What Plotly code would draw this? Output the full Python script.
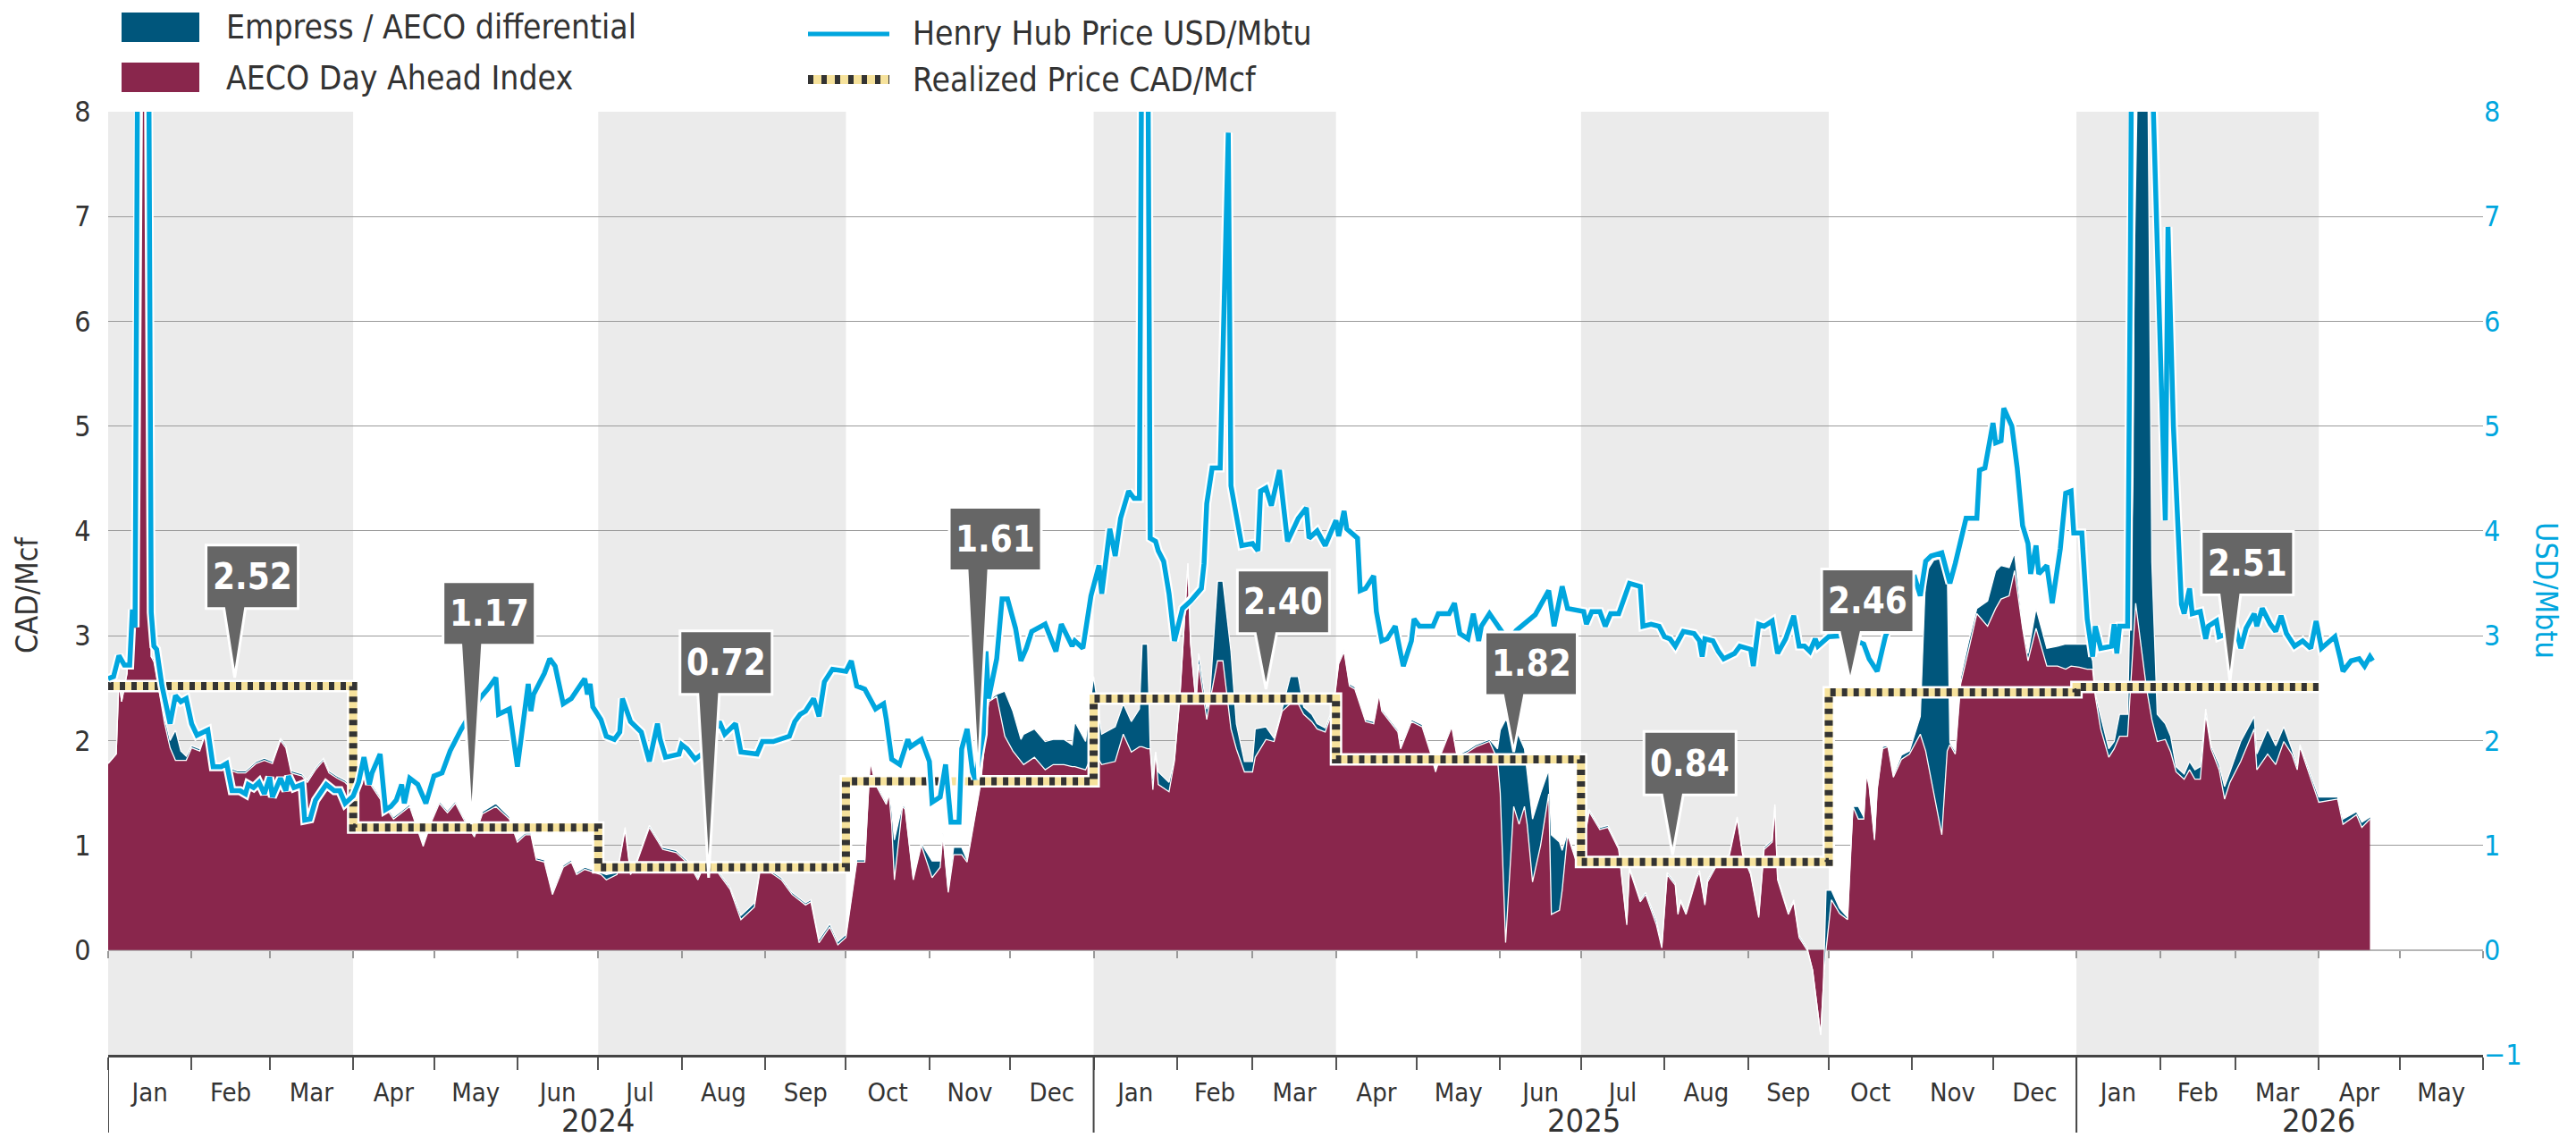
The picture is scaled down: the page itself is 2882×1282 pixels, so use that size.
import plotly.graph_objects as go
import pandas as pd

# ---------------- DATA ----------------
aeco_dates = [
    "2024-01-01","2024-01-04","2024-01-05","2024-01-06","2024-01-08","2024-01-10","2024-01-11","2024-01-12","2024-01-13","2024-01-15","2024-01-16","2024-01-17","2024-01-18","2024-01-20","2024-01-22","2024-01-24","2024-01-26","2024-01-28","2024-01-30",
    "2024-02-01","2024-02-04","2024-02-06","2024-02-09","2024-02-12","2024-02-15","2024-02-18","2024-02-21","2024-02-25","2024-02-28",
    "2024-03-02","2024-03-05","2024-03-07","2024-03-09","2024-03-13","2024-03-15","2024-03-18","2024-03-21","2024-03-23","2024-03-26","2024-03-29",
    "2024-04-01","2024-04-03","2024-04-06","2024-04-09","2024-04-13","2024-04-16","2024-04-19","2024-04-22","2024-04-27","2024-04-30",
    "2024-05-03","2024-05-06","2024-05-09","2024-05-12","2024-05-16","2024-05-19","2024-05-24","2024-05-29",
    "2024-06-01","2024-06-04","2024-06-06","2024-06-08","2024-06-11","2024-06-14","2024-06-18","2024-06-21","2024-06-23","2024-06-26",
    "2024-07-02","2024-07-04","2024-07-08","2024-07-11","2024-07-13","2024-07-15","2024-07-20","2024-07-23","2024-07-25","2024-07-30",
    "2024-08-04","2024-08-07","2024-08-09","2024-08-13","2024-08-15","2024-08-19","2024-08-23","2024-08-28","2024-08-30",
    "2024-09-03","2024-09-07","2024-09-11","2024-09-16","2024-09-18","2024-09-21","2024-09-25","2024-09-28",
    "2024-10-01","2024-10-05","2024-10-08","2024-10-10","2024-10-12","2024-10-16","2024-10-17","2024-10-18","2024-10-19","2024-10-22","2024-10-23","2024-10-26","2024-10-29",
    "2024-11-02","2024-11-05","2024-11-06","2024-11-08","2024-11-10","2024-11-13","2024-11-15","2024-11-20","2024-11-23","2024-11-26","2024-11-29",
    "2024-12-02","2024-12-05","2024-12-06","2024-12-10","2024-12-14","2024-12-17","2024-12-21","2024-12-24","2024-12-25","2024-12-29",
    "2025-01-01","2025-01-04","2025-01-09","2025-01-12","2025-01-15","2025-01-18","2025-01-19","2025-01-21","2025-01-22","2025-01-23","2025-01-24","2025-01-25","2025-01-29","2025-01-31",
    "2025-02-02","2025-02-05","2025-02-06","2025-02-08","2025-02-09","2025-02-12","2025-02-13","2025-02-16","2025-02-18","2025-02-21","2025-02-23","2025-02-26",
    "2025-03-01","2025-03-02","2025-03-06","2025-03-09","2025-03-12","2025-03-15","2025-03-18","2025-03-20","2025-03-23","2025-03-25","2025-03-28","2025-03-31",
    "2025-04-02","2025-04-04","2025-04-06","2025-04-08","2025-04-12","2025-04-15","2025-04-17","2025-04-18","2025-04-24","2025-04-25","2025-04-29",
    "2025-05-03","2025-05-06","2025-05-08","2025-05-10","2025-05-14","2025-05-16","2025-05-20","2025-05-23","2025-05-28","2025-05-31",
    "2025-06-01","2025-06-03","2025-06-06","2025-06-08","2025-06-10","2025-06-11","2025-06-13","2025-06-16","2025-06-19","2025-06-20","2025-06-23","2025-06-24","2025-06-26","2025-06-29",
    "2025-07-01","2025-07-04","2025-07-08","2025-07-11","2025-07-15","2025-07-18","2025-07-19","2025-07-23","2025-07-25","2025-07-29","2025-07-31",
    "2025-08-02","2025-08-05","2025-08-06","2025-08-07","2025-08-09","2025-08-13","2025-08-14","2025-08-16","2025-08-17","2025-08-20","2025-08-25","2025-08-28","2025-08-30",
    "2025-09-02","2025-09-05","2025-09-07","2025-09-10","2025-09-11","2025-09-12","2025-09-16","2025-09-18","2025-09-20","2025-09-23","2025-09-25","2025-09-28","2025-09-29","2025-09-30",
    "2025-10-02","2025-10-05","2025-10-08","2025-10-09","2025-10-10","2025-10-12","2025-10-14","2025-10-15","2025-10-16","2025-10-18","2025-10-19","2025-10-21","2025-10-23","2025-10-25","2025-10-28","2025-10-31",
    "2025-11-04","2025-11-06","2025-11-09","2025-11-12","2025-11-14","2025-11-15","2025-11-17","2025-11-19","2025-11-22","2025-11-25","2025-11-29",
    "2025-12-02","2025-12-04","2025-12-07","2025-12-09","2025-12-12","2025-12-14","2025-12-17","2025-12-21","2025-12-25","2025-12-28","2025-12-30",
    "2026-01-02","2026-01-05","2026-01-07","2026-01-08","2026-01-10","2026-01-13","2026-01-15","2026-01-17","2026-01-20","2026-01-22","2026-01-23","2026-01-25","2026-01-27","2026-01-29","2026-01-31",
    "2026-02-03","2026-02-05","2026-02-07","2026-02-10","2026-02-12","2026-02-14","2026-02-16","2026-02-18","2026-02-20","2026-02-23","2026-02-25","2026-02-27",
    "2026-03-03","2026-03-08","2026-03-09","2026-03-13","2026-03-16","2026-03-19","2026-03-22","2026-03-24","2026-03-25",
    "2026-04-01","2026-04-08","2026-04-10","2026-04-15","2026-04-17","2026-04-20",
]
aeco_price = [
    1.78,1.87,2.58,2.37,2.64,3.34,3.6,9.0,12.0,12.0,8.0,2.8,2.75,2.46,2.16,1.93,1.81,1.81,1.81,
    1.93,1.9,2.05,1.75,1.76,1.72,1.69,1.69,1.78,1.81,
    1.78,2.0,1.93,1.69,1.66,1.6,1.72,1.81,1.69,1.64,1.6,
    1.52,1.6,1.64,1.52,1.37,1.25,1.31,1.37,0.99,1.22,
    1.4,1.31,1.4,1.25,1.08,1.3,1.37,1.25,
    1.03,1.1,1.1,0.86,0.84,0.53,0.79,0.84,0.72,0.77,
    0.72,0.67,0.72,1.15,0.72,0.81,1.17,1.05,0.96,0.93,
    0.81,0.67,0.79,0.81,0.72,0.58,0.29,0.41,0.74,
    0.74,0.67,0.53,0.43,0.46,0.07,0.22,0.05,
    0.12,0.84,0.84,1.8,1.58,1.39,1.49,1.2,0.67,1.37,1.34,0.67,1.0,
    0.69,0.79,1.1,0.55,0.91,0.91,0.84,1.58,2.37,2.42,2.04,
    1.9,1.8,1.77,1.84,1.72,1.77,1.77,1.75,1.75,1.72,
    1.9,1.77,1.8,2.06,1.89,1.94,1.94,1.92,1.92,1.53,1.89,1.58,1.51,1.8,
    2.4,3.69,2.92,2.35,2.73,2.2,2.35,2.76,2.76,2.11,1.92,1.7,
    1.7,1.84,2.01,1.99,2.28,2.35,2.35,2.25,2.18,2.11,2.08,2.3,
    2.73,2.85,2.52,2.49,2.18,2.16,2.44,2.28,2.08,1.92,2.18,
    2.13,1.89,1.7,1.87,2.13,1.84,1.89,1.94,1.99,1.82,
    1.5,0.07,1.37,1.2,1.37,1.2,0.65,1.0,1.49,0.34,0.38,0.57,1.1,0.86,
    0.86,1.32,1.15,1.17,0.96,0.24,0.77,0.46,0.53,0.24,0.02,
    0.72,0.62,0.34,0.46,0.34,0.69,0.74,0.43,0.65,0.79,0.89,1.25,0.91,
    0.72,0.31,0.96,1.03,1.37,0.67,0.34,0.46,0.12,0.0,-0.19,-0.81,-0.34,0.0,
    0.48,0.35,0.29,0.86,1.37,1.25,1.25,1.68,1.56,1.05,1.53,1.92,1.94,1.65,1.82,1.87,
    2.06,1.9,1.5,1.1,1.9,1.96,1.87,2.54,2.87,3.21,3.09,
    3.26,3.35,3.38,3.62,3.07,2.76,3.07,2.71,2.71,2.68,2.71,
    2.7,2.68,2.68,2.42,2.11,1.84,1.92,2.04,2.04,2.9,3.31,2.9,2.5,2.2,1.99,
    2.01,1.89,1.7,1.63,1.72,1.63,1.63,2.25,1.92,1.72,1.44,1.6,
    1.8,2.11,1.72,1.87,1.77,1.99,1.87,1.72,1.94,
    1.41,1.44,1.2,1.29,1.17,1.25,
]
empress_price = [
    1.78,1.87,2.58,2.37,2.64,3.5,3.7,9.0,12.0,12.0,8.0,2.8,2.78,2.5,2.22,2.0,2.1,1.9,1.85,
    1.95,1.92,2.07,1.77,1.78,1.74,1.71,1.71,1.8,1.83,
    1.8,2.02,1.95,1.71,1.68,1.62,1.74,1.83,1.71,1.66,1.62,
    1.54,1.62,1.66,1.54,1.39,1.27,1.33,1.39,1.01,1.24,
    1.42,1.33,1.42,1.27,1.1,1.32,1.4,1.27,
    1.05,1.12,1.12,0.88,0.86,0.55,0.81,0.86,0.74,0.79,
    0.74,0.72,0.74,1.17,0.74,0.83,1.19,1.07,0.98,0.95,
    0.83,0.69,0.81,0.83,0.74,0.6,0.33,0.45,0.76,
    0.76,0.69,0.55,0.45,0.48,0.1,0.25,0.08,
    0.15,0.86,0.86,1.82,1.6,1.41,1.51,1.34,1.05,1.39,1.36,0.69,1.02,
    0.85,0.85,1.12,0.57,0.98,0.98,0.86,1.6,2.39,2.44,2.47,
    2.28,2.01,2.06,2.11,1.99,2.01,2.01,1.96,2.18,1.99,
    2.61,2.06,2.13,2.35,2.18,2.3,2.92,2.92,1.94,1.63,1.89,1.7,1.6,1.82,
    2.42,3.69,2.94,2.37,2.83,2.3,2.37,3.52,3.52,2.85,2.16,1.8,
    1.8,2.11,2.13,2.02,2.3,2.61,2.61,2.32,2.25,2.16,2.12,2.32,
    2.75,2.87,2.54,2.51,2.2,2.18,2.46,2.3,2.1,1.94,2.2,
    2.15,1.91,1.72,1.89,2.15,1.86,1.91,1.96,2.01,1.92,
    2.1,2.2,2.1,2.04,1.92,1.7,1.25,1.5,1.72,1.1,1.03,0.95,1.12,0.88,
    0.88,1.34,1.17,1.19,0.98,0.26,0.79,0.48,0.55,0.28,0.04,
    0.74,0.64,0.36,0.48,0.36,0.71,0.76,0.45,0.67,0.81,0.91,1.27,0.93,
    0.74,0.33,0.98,1.05,1.39,0.69,0.36,0.48,0.14,0.02,-0.19,-0.81,-0.34,0.57,
    0.57,0.4,0.31,0.88,1.37,1.37,1.27,1.7,1.58,1.07,1.55,1.94,1.96,1.67,1.86,1.9,
    2.23,3.6,3.72,3.74,3.69,1.98,1.9,2.6,2.95,3.26,3.33,
    3.62,3.67,3.65,3.79,3.09,2.83,3.26,2.88,2.9,2.92,2.92,
    2.92,2.92,2.76,2.45,2.23,1.92,1.99,2.25,2.25,4.5,9.0,12.0,10.0,3.7,2.25,
    2.16,2.04,1.75,1.68,1.8,1.72,1.75,2.3,1.95,1.77,1.56,1.7,
    1.99,2.23,1.87,2.11,1.95,2.13,1.92,1.75,1.96,
    1.46,1.46,1.25,1.32,1.22,1.27,
]

hh_dates = [
    "2024-01-01","2024-01-03","2024-01-05","2024-01-07","2024-01-09","2024-01-10","2024-01-11","2024-01-12","2024-01-13","2024-01-15","2024-01-16","2024-01-17","2024-01-18","2024-01-19","2024-01-21","2024-01-24","2024-01-26","2024-01-28","2024-01-30",
    "2024-02-01","2024-02-03","2024-02-05","2024-02-07","2024-02-09","2024-02-12","2024-02-14","2024-02-16","2024-02-19","2024-02-21","2024-02-22","2024-02-24","2024-02-26","2024-02-28",
    "2024-03-01","2024-03-02","2024-03-05","2024-03-07","2024-03-08","2024-03-10","2024-03-13","2024-03-14","2024-03-16","2024-03-18","2024-03-22","2024-03-25","2024-03-27","2024-03-29",
    "2024-04-01","2024-04-03","2024-04-05","2024-04-07","2024-04-08","2024-04-11","2024-04-13","2024-04-15","2024-04-17","2024-04-19","2024-04-20","2024-04-22","2024-04-25","2024-04-28",
    "2024-05-01","2024-05-04","2024-05-07","2024-05-11","2024-05-18","2024-05-21","2024-05-24","2024-05-25","2024-05-29",
    "2024-06-01","2024-06-05","2024-06-06","2024-06-07","2024-06-11","2024-06-13","2024-06-15","2024-06-18","2024-06-21","2024-06-26","2024-06-27","2024-06-28","2024-06-29",
    "2024-07-02","2024-07-04","2024-07-07","2024-07-09","2024-07-10","2024-07-13","2024-07-17","2024-07-18","2024-07-20","2024-07-23","2024-07-24","2024-07-26","2024-07-31",
    "2024-08-01","2024-08-03","2024-08-06","2024-08-10","2024-08-15","2024-08-17","2024-08-21","2024-08-23","2024-08-29","2024-08-31",
    "2024-09-04","2024-09-07","2024-09-10","2024-09-12","2024-09-14","2024-09-16","2024-09-19","2024-09-21","2024-09-23","2024-09-26",
    "2024-10-01","2024-10-03","2024-10-05","2024-10-08","2024-10-10","2024-10-12","2024-10-15","2024-10-16","2024-10-18","2024-10-21","2024-10-24","2024-10-25","2024-10-29",
    "2024-11-01","2024-11-02","2024-11-05","2024-11-07","2024-11-08","2024-11-09","2024-11-12","2024-11-13","2024-11-15","2024-11-17","2024-11-18","2024-11-21","2024-11-22","2024-11-23","2024-11-26","2024-11-28","2024-11-30",
    "2024-12-03","2024-12-05","2024-12-07","2024-12-09","2024-12-12","2024-12-14","2024-12-18","2024-12-20","2024-12-24","2024-12-25","2024-12-28","2024-12-31",
    "2025-01-03","2025-01-04","2025-01-07","2025-01-09","2025-01-11","2025-01-14","2025-01-16","2025-01-18","2025-01-19","2025-01-21","2025-01-22","2025-01-24","2025-01-25","2025-01-27","2025-01-29","2025-01-31",
    "2025-02-03","2025-02-06","2025-02-10","2025-02-11","2025-02-12","2025-02-14","2025-02-17","2025-02-20","2025-02-21","2025-02-25",
    "2025-03-01","2025-03-03","2025-03-04","2025-03-06","2025-03-08","2025-03-11","2025-03-14","2025-03-18","2025-03-21","2025-03-22","2025-03-25","2025-03-28",
    "2025-04-01","2025-04-02","2025-04-04","2025-04-05","2025-04-09","2025-04-10","2025-04-12","2025-04-15","2025-04-16","2025-04-18","2025-04-20","2025-04-23","2025-04-25","2025-04-26","2025-04-29","2025-04-30",
    "2025-05-02","2025-05-07","2025-05-09","2025-05-13","2025-05-15","2025-05-17","2025-05-20","2025-05-22","2025-05-24","2025-05-25","2025-05-28",
    "2025-06-01","2025-06-04","2025-06-07","2025-06-10","2025-06-14","2025-06-19","2025-06-21","2025-06-24","2025-06-26",
    "2025-07-02","2025-07-03","2025-07-05","2025-07-08","2025-07-10","2025-07-12","2025-07-15","2025-07-19","2025-07-23","2025-07-24","2025-07-27","2025-07-30",
    "2025-08-01","2025-08-03","2025-08-05","2025-08-08","2025-08-12","2025-08-14","2025-08-15","2025-08-16","2025-08-19","2025-08-21","2025-08-23","2025-08-27","2025-08-29",
    "2025-09-02","2025-09-03","2025-09-05","2025-09-07","2025-09-10","2025-09-12","2025-09-15","2025-09-18","2025-09-20","2025-09-22","2025-09-24","2025-09-26","2025-09-27",
    "2025-10-01","2025-10-07","2025-10-14","2025-10-16","2025-10-19","2025-10-22","2025-10-27","2025-10-30",
    "2025-11-02","2025-11-04","2025-11-06","2025-11-08","2025-11-12","2025-11-15","2025-11-17","2025-11-19","2025-11-21","2025-11-25","2025-11-26","2025-11-28",
    "2025-12-01","2025-12-02","2025-12-04","2025-12-05","2025-12-08","2025-12-10","2025-12-12","2025-12-14","2025-12-15","2025-12-17","2025-12-18","2025-12-21","2025-12-23","2025-12-26","2025-12-28","2025-12-30","2025-12-31",
    "2026-01-03","2026-01-05","2026-01-07","2026-01-08","2026-01-10","2026-01-14","2026-01-15","2026-01-16","2026-01-17","2026-01-20","2026-01-21","2026-01-22","2026-01-24","2026-01-26","2026-01-29",
    "2026-02-01","2026-02-03","2026-02-04","2026-02-06","2026-02-09","2026-02-10","2026-02-12","2026-02-13","2026-02-16","2026-02-18","2026-02-19","2026-02-22","2026-02-23","2026-02-26",
    "2026-03-01","2026-03-03","2026-03-05","2026-03-08","2026-03-09","2026-03-11","2026-03-14","2026-03-16","2026-03-18","2026-03-20","2026-03-23","2026-03-26","2026-03-29","2026-03-31",
    "2026-04-02","2026-04-07","2026-04-09","2026-04-10","2026-04-13","2026-04-16","2026-04-18","2026-04-20","2026-04-21",
]
hh_price = [
    2.59,2.61,2.81,2.72,2.72,3.25,3.08,9.0,11.0,13.0,9.0,3.22,2.9,2.87,2.52,2.16,2.43,2.37,2.4,
    2.16,2.05,2.08,2.1,1.75,1.75,1.78,1.52,1.52,1.49,1.58,1.55,1.6,1.49,
    1.65,1.46,1.64,1.52,1.66,1.55,1.58,1.24,1.25,1.43,1.58,1.52,1.52,1.4,
    1.47,1.6,1.84,1.58,1.69,1.87,1.34,1.37,1.43,1.58,1.4,1.64,1.58,1.4,
    1.66,1.69,1.9,2.1,2.4,2.49,2.6,2.25,2.3,
    1.75,2.54,2.28,2.44,2.64,2.78,2.71,2.35,2.4,2.59,2.44,2.54,2.32,
    2.2,2.04,2.01,2.08,2.4,2.18,2.08,1.99,1.8,2.16,2.01,1.84,1.87,
    1.96,1.92,1.82,1.9,2.18,2.06,2.16,1.89,1.87,1.99,
    1.99,2.01,2.04,2.18,2.25,2.28,2.4,2.23,2.56,2.68,
    2.66,2.76,2.52,2.49,2.4,2.3,2.35,2.2,1.82,1.77,2.01,1.94,2.01,
    1.8,1.41,1.46,1.77,1.53,1.22,1.22,1.92,2.11,1.7,1.63,2.06,2.85,2.4,2.78,3.35,3.35,
    3.07,2.76,2.88,3.04,3.09,3.11,2.85,3.11,2.9,2.95,2.88,3.38,
    3.67,3.4,4.02,3.76,4.12,4.38,4.31,4.31,9.5,9.5,3.93,3.9,3.81,3.71,3.4,2.95,
    3.26,3.33,3.45,3.69,4.26,4.6,4.6,7.8,4.43,3.86,
    3.88,3.81,4.38,4.41,4.24,4.58,3.9,4.12,4.22,3.93,4.0,3.86,
    4.1,3.95,4.19,4.02,3.93,3.43,3.45,3.57,3.23,2.95,2.97,3.09,2.83,2.71,2.95,3.16,
    3.09,3.09,3.21,3.21,3.31,3.02,2.97,3.21,2.95,3.09,3.21,
    3.05,2.95,3.05,3.11,3.2,3.43,3.09,3.47,3.26,
    3.23,3.11,3.23,3.23,3.09,3.21,3.21,3.5,3.47,3.09,3.11,3.09,
    2.99,2.97,2.9,3.04,3.02,2.95,2.8,2.97,2.95,2.85,2.78,2.83,2.9,
    2.87,2.71,3.11,3.09,3.14,2.83,2.97,3.19,2.9,2.9,2.85,2.97,2.9,
    2.99,3.0,2.92,2.78,2.66,2.99,3.3,3.5,
    3.55,3.38,3.71,3.76,3.79,3.5,3.69,3.93,4.12,4.12,4.58,4.6,
    5.03,4.84,4.86,5.17,5.0,4.6,4.05,3.88,3.59,3.86,3.59,3.67,3.31,3.83,4.36,4.38,3.98,
    3.98,3.16,2.8,3.09,2.88,2.9,3.11,2.83,3.09,3.09,6.5,11.0,11.0,8.5,8.5,
    6.0,4.1,6.9,5.0,3.3,3.21,3.45,3.21,3.23,2.97,3.09,3.14,2.99,3.02,
    3.09,2.88,3.07,3.21,3.09,3.26,3.11,3.04,3.19,3.02,2.9,2.95,2.88,3.14,
    2.88,2.99,2.78,2.66,2.76,2.78,2.71,2.8,2.76,
]

quarter_starts = ["2024-01-01","2024-04-01","2024-07-01","2024-10-01","2025-01-01",
                  "2025-04-01","2025-07-01","2025-10-01","2026-01-01"]
realized_price = [2.52, 1.17, 0.79, 1.61, 2.40, 1.82, 0.84, 2.46, 2.51]
realized_end = "2026-04-01"
callout_labels = ["2.52", "1.17", "0.72", "1.61", "2.40", "1.82", "0.84", "2.46", "2.51"]

year_labels = ["2024", "2025", "2026"]
year_label_dates = ["2024-07-01", "2025-07-02", "2026-04-01"]
year_starts = ["2024-01-01", "2025-01-01", "2026-01-01"]
shaded_quarters = [("2024-01-01", "2024-04-01"), ("2024-07-01", "2024-10-01"),
                   ("2025-01-01", "2025-04-01"), ("2025-07-01", "2025-10-01"),
                   ("2026-01-01", "2026-04-01")]

# callout positions (pointer tip date / tip level / box bottom level)
callout_tip_dates = ["2024-02-17", "2024-05-15", "2024-08-11", "2024-11-19", "2025-03-06",
                     "2025-06-06", "2025-08-04", "2025-10-09", "2026-02-27"]
callout_tip_y = [2.60, 1.20, 0.69, 1.63, 2.49, 1.89, 0.91, 2.56, 2.56]
callout_box_y = [3.26, 2.91, 2.44, 3.62, 3.02, 2.43, 1.48, 3.03, 3.39]

assert len(aeco_dates) == len(aeco_price) == len(empress_price)
assert len(hh_dates) == len(hh_price)

# ---------------- STYLE ----------------
W, H = 2882, 1282
L_PX, R_PX, T_PX, B_PX = 121, 2778, 125, 1180
X0, X1 = "2024-01-01", "2026-06-01"
PX_PER_DAY = (R_PX - L_PX) / (pd.Timestamp(X1) - pd.Timestamp(X0)).days
PX_PER_UNIT = (B_PX - T_PX) / 9.0

FONT = "DejaVu Sans Condensed, DejaVu Sans, sans-serif"
TXT = "#333333"
MAROON = "#89264C"
NAVY = "#00567C"
HHBLUE = "#00A6DE"
BAND = "#EBEBEB"
YELLOW = "#F6E29C"
DARK = "#333333"
CALLOUT = "#666666"


def px_x(px):
    return (px - L_PX) / (R_PX - L_PX)


def px_y(py):
    return (B_PX - py) / (B_PX - T_PX)


def shift(d, px):
    return pd.Timestamp(d) + pd.Timedelta(days=px / PX_PER_DAY)


def pf(t):
    return t.strftime("%Y-%m-%d_%H:%M:%S")


differential = [e - a for a, e in zip(aeco_price, empress_price)]

fig = go.Figure()

# stacked areas
fig.add_trace(go.Scatter(x=aeco_dates, y=aeco_price, stackgroup="s", mode="lines",
                         line=dict(color="white", width=1.3), fillcolor=MAROON,
                         name="AECO Day Ahead Index", showlegend=False, hoverinfo="skip"))
fig.add_trace(go.Scatter(x=aeco_dates, y=differential, stackgroup="s", mode="lines",
                         line=dict(color="white", width=1.3), fillcolor=NAVY,
                         name="Empress / AECO differential", showlegend=False, hoverinfo="skip"))

# Henry Hub line with white halo
fig.add_trace(go.Scatter(x=hh_dates, y=hh_price, mode="lines", yaxis="y2",
                         line=dict(color="white", width=10), showlegend=False, hoverinfo="skip"))
fig.add_trace(go.Scatter(x=hh_dates, y=hh_price, mode="lines", yaxis="y2",
                         line=dict(color=HHBLUE, width=5.5), name="Henry Hub Price USD/Mbtu",
                         showlegend=False, hoverinfo="skip"))

# Realized price step line
rx = quarter_starts + [realized_end]
ry = realized_price + [realized_price[-1]]
fig.add_trace(go.Scatter(x=rx, y=ry, mode="lines", line=dict(color="white", width=14, shape="hv"),
                         showlegend=False, hoverinfo="skip"))
fig.add_trace(go.Scatter(x=rx, y=ry, mode="lines", line=dict(color=YELLOW, width=9, shape="hv"),
                         showlegend=False, hoverinfo="skip"))
fig.add_trace(go.Scatter(x=rx, y=ry, mode="lines",
                         line=dict(color=DARK, width=9, shape="hv", dash="6px,7px"),
                         name="Realized Price CAD/Mcf", showlegend=False, hoverinfo="skip"))

# dummy trace to host the zero-line axis
fig.add_trace(go.Scatter(x=[X0], y=[None], xaxis="x2", yaxis="y", showlegend=False,
                         hoverinfo="skip"))

shapes = []
annotations = []

# shaded quarters
for a, b in shaded_quarters:
    shapes.append(dict(type="rect", xref="x", yref="paper", x0=a, x1=b, y0=0, y1=1,
                       fillcolor=BAND, line=dict(width=0), layer="below"))

# year separators under the axis
for d in year_starts:
    shapes.append(dict(type="line", xref="x", yref="paper", x0=d, x1=d, y0=0, y1=px_y(1267),
                       line=dict(color="#444444", width=2)))

for lab, d in zip(year_labels, year_label_dates):
    annotations.append(dict(x=d, y=px_y(1253), xref="x", yref="paper", text=lab,
                            showarrow=False, xanchor="center", yanchor="middle",
                            font=dict(family=FONT, size=36, color=TXT)))

# callouts
BOX_H = 71 / PX_PER_UNIT
for lab, d, ty, by in zip(callout_labels, callout_tip_dates, callout_tip_y, callout_box_y):
    top = by + BOX_H
    Lx, Rx = shift(d, -32), shift(d, 71)
    bl, br, tip = shift(d, -12), shift(d, 12), pd.Timestamp(d)
    path = (f"M{pf(Lx)},{top} L{pf(Rx)},{top} L{pf(Rx)},{by} L{pf(br)},{by} "
            f"L{pf(tip)},{ty} L{pf(bl)},{by} L{pf(Lx)},{by} Z")
    shapes.append(dict(type="path", path=path, xref="x", yref="y", fillcolor=CALLOUT,
                       line=dict(color="white", width=3), layer="above"))
    annotations.append(dict(x=shift(d, 19.5), y=by + BOX_H / 2, xref="x", yref="y", text=f"<b>{lab}</b>",
                            showarrow=False, xanchor="center", yanchor="middle",
                            font=dict(family=FONT, size=40, color="white")))

# custom legend
shapes.append(dict(type="rect", xref="paper", yref="paper", x0=px_x(136), x1=px_x(223),
                   y0=px_y(47), y1=px_y(14), fillcolor=NAVY, line=dict(width=0)))
shapes.append(dict(type="rect", xref="paper", yref="paper", x0=px_x(136), x1=px_x(223),
                   y0=px_y(103), y1=px_y(70), fillcolor=MAROON, line=dict(width=0)))
shapes.append(dict(type="line", xref="paper", yref="paper", x0=px_x(904), x1=px_x(995),
                   y0=px_y(38), y1=px_y(38), line=dict(color=HHBLUE, width=5)))
shapes.append(dict(type="line", xref="paper", yref="paper", x0=px_x(904), x1=px_x(995),
                   y0=px_y(89), y1=px_y(89), line=dict(color=YELLOW, width=10)))
shapes.append(dict(type="line", xref="paper", yref="paper", x0=px_x(904), x1=px_x(995),
                   y0=px_y(89), y1=px_y(89), line=dict(color=DARK, width=10, dash="6px,9px")))
legend_items = [("Empress / AECO differential", 251, 31), ("AECO Day Ahead Index", 251, 87),
                ("Henry Hub Price USD/Mbtu", 1019, 38), ("Realized Price CAD/Mcf", 1019, 89)]
for text, x, y in legend_items:
    annotations.append(dict(x=px_x(x), y=px_y(y), xref="paper", yref="paper", text=text,
                            showarrow=False, xanchor="left", yanchor="middle",
                            font=dict(family=FONT, size=37, color=TXT)))

# axis titles
annotations.append(dict(x=px_x(30), y=px_y(666), xref="paper", yref="paper", text="CAD/Mcf",
                        showarrow=False, textangle=-90, xanchor="center", yanchor="middle",
                        font=dict(family=FONT, size=34, color=TXT)))
annotations.append(dict(x=px_x(2849), y=px_y(660), xref="paper", yref="paper", text="USD/Mbtu",
                        showarrow=False, textangle=90, xanchor="center", yanchor="middle",
                        font=dict(family=FONT, size=34, color=HHBLUE)))

fig.update_layout(
    width=W, height=H,
    margin=dict(l=L_PX, r=W - R_PX, t=T_PX, b=H - B_PX, pad=0),
    paper_bgcolor="white", plot_bgcolor="white",
    showlegend=False,
    shapes=shapes, annotations=annotations,
    xaxis=dict(type="date", range=[X0, X1], dtick="M1", tick0=X0, tickformat="%b",
               ticklabelmode="period", ticks="outside", ticklen=14, tickwidth=1.5,
               tickcolor="#555555", showline=True, linecolor="#444444", linewidth=3,
               showgrid=False, zeroline=False,
               tickfont=dict(family=FONT, size=29, color=TXT)),
    xaxis2=dict(type="date", range=[X0, X1], overlaying="x", anchor="free", position=px_y(1063),
                dtick="M1", tick0=X0, ticks="outside", ticklen=8, tickwidth=1.5,
                tickcolor="#999999", showline=True, linecolor="#b5b5b5", linewidth=2,
                showticklabels=False, showgrid=False, zeroline=False, layer="below traces"),
    yaxis=dict(range=[-1, 8], tickvals=list(range(0, 9)), showgrid=True, gridcolor="#9a9a9a",
               gridwidth=1.2, zeroline=False, showline=False, ticks="outside", ticklen=12,
               tickcolor="rgba(0,0,0,0)",
               tickfont=dict(family=FONT, size=32, color=TXT)),
    yaxis2=dict(range=[-1, 8], tickvals=list(range(-1, 9)), overlaying="y", side="right",
                showgrid=False, zeroline=False, showline=False, ticks="",
                tickfont=dict(family=FONT, size=32, color=HHBLUE)),
)

fig.write_html("out.html", config={"displayModeBar": False},
               post_script="document.body.style.margin='0';document.body.style.overflow='hidden';")
